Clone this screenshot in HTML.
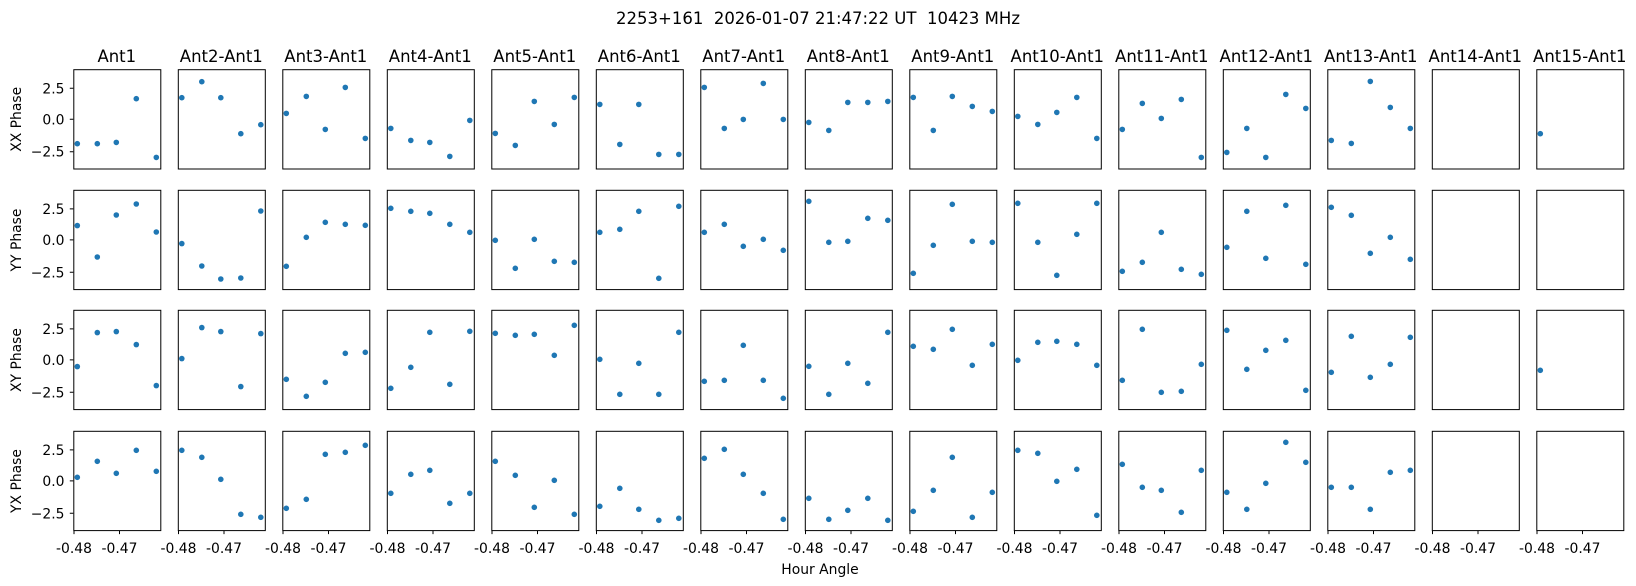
<!DOCTYPE html>
<html><head><meta charset="utf-8"><style>
html,body{margin:0;padding:0;background:#fff;}
svg{display:block;font-family:"DejaVu Sans","Liberation Sans",sans-serif;}
</style></head><body>
<svg width="1636" height="586" viewBox="0 0 1636 586" xmlns="http://www.w3.org/2000/svg">
<rect width="1636" height="586" fill="#fff"/>
<text x="818" y="24" font-size="16.5" text-anchor="middle" style="white-space:pre">2253+161  2026-01-07 21:47:22 UT  10423 MHz</text>
<g font-size="16.5" text-anchor="middle">
<text x="116.8" y="62">Ant1</text>
<text x="221.3" y="62">Ant2-Ant1</text>
<text x="325.8" y="62">Ant3-Ant1</text>
<text x="430.3" y="62">Ant4-Ant1</text>
<text x="534.8" y="62">Ant5-Ant1</text>
<text x="639.3" y="62">Ant6-Ant1</text>
<text x="743.8" y="62">Ant7-Ant1</text>
<text x="848.3" y="62">Ant8-Ant1</text>
<text x="952.8" y="62">Ant9-Ant1</text>
<text x="1057.3" y="62">Ant10-Ant1</text>
<text x="1161.8" y="62">Ant11-Ant1</text>
<text x="1266.3" y="62">Ant12-Ant1</text>
<text x="1370.8" y="62">Ant13-Ant1</text>
<text x="1475.3" y="62">Ant14-Ant1</text>
<text x="1579.8" y="62">Ant15-Ant1</text>
</g>
<g font-size="13.9" text-anchor="middle">
<text transform="translate(21,119.3) rotate(-90)">XX Phase</text>
<text transform="translate(21,240) rotate(-90)">YY Phase</text>
<text transform="translate(21,360) rotate(-90)">XY Phase</text>
<text transform="translate(21,481) rotate(-90)">YX Phase</text>
<text x="820" y="574">Hour Angle</text>
</g>
<!-- y ticks -->
<g font-size="13.9" text-anchor="end" stroke="none">
<text x="64.5" y="93.3">2.5</text><text x="64.5" y="124.3">0.0</text><text x="64.5" y="156.7">−2.5</text>
<text x="64.5" y="213.9">2.5</text><text x="64.5" y="244.9">0.0</text><text x="64.5" y="277.3">−2.5</text>
<text x="64.5" y="333.9">2.5</text><text x="64.5" y="364.9">0.0</text><text x="64.5" y="397.3">−2.5</text>
<text x="64.5" y="454.9">2.5</text><text x="64.5" y="485.9">0.0</text><text x="64.5" y="518.3">−2.5</text>
</g>
<g stroke="#000" stroke-width="1">
<path d="M69.8 88.3H73.3M69.8 119.3H73.3M69.8 151.7H73.3M69.8 208.9H73.3M69.8 239.9H73.3M69.8 272.3H73.3M69.8 328.9H73.3M69.8 359.9H73.3M69.8 392.3H73.3M69.8 449.9H73.3M69.8 480.9H73.3M69.8 513.3H73.3"/>
</g>
<!-- x ticks -->
<g stroke="#000" stroke-width="1">
<path d="M74 530.6v3.5M119.5 530.6v3.5M178.5 530.6v3.5M224 530.6v3.5M283 530.6v3.5M328.5 530.6v3.5M387.5 530.6v3.5M433 530.6v3.5M492 530.6v3.5M537.5 530.6v3.5M596.5 530.6v3.5M642 530.6v3.5M701 530.6v3.5M746.5 530.6v3.5M805.5 530.6v3.5M851 530.6v3.5M910 530.6v3.5M955.5 530.6v3.5M1014.5 530.6v3.5M1060 530.6v3.5M1119 530.6v3.5M1164.5 530.6v3.5M1223.5 530.6v3.5M1269 530.6v3.5M1328 530.6v3.5M1373.5 530.6v3.5M1432.5 530.6v3.5M1478 530.6v3.5M1537 530.6v3.5M1582.5 530.6v3.5"/>
</g>
<g font-size="13.9" text-anchor="middle">
<text x="74" y="553">-0.48</text><text x="119.5" y="553">-0.47</text>
<text x="178.5" y="553">-0.48</text><text x="224" y="553">-0.47</text>
<text x="283" y="553">-0.48</text><text x="328.5" y="553">-0.47</text>
<text x="387.5" y="553">-0.48</text><text x="433" y="553">-0.47</text>
<text x="492" y="553">-0.48</text><text x="537.5" y="553">-0.47</text>
<text x="596.5" y="553">-0.48</text><text x="642" y="553">-0.47</text>
<text x="701" y="553">-0.48</text><text x="746.5" y="553">-0.47</text>
<text x="805.5" y="553">-0.48</text><text x="851" y="553">-0.47</text>
<text x="910" y="553">-0.48</text><text x="955.5" y="553">-0.47</text>
<text x="1014.5" y="553">-0.48</text><text x="1060" y="553">-0.47</text>
<text x="1119" y="553">-0.48</text><text x="1164.5" y="553">-0.47</text>
<text x="1223.5" y="553">-0.48</text><text x="1269" y="553">-0.47</text>
<text x="1328" y="553">-0.48</text><text x="1373.5" y="553">-0.47</text>
<text x="1432.5" y="553">-0.48</text><text x="1478" y="553">-0.47</text>
<text x="1537" y="553">-0.48</text><text x="1582.5" y="553">-0.47</text>
</g>
<!-- boxes -->
<g fill="none" stroke="#000" stroke-width="1">
<g id="col"><rect x="0.5" y="0" width="87" height="99.3" transform="translate(73.3,69.7)"/><rect x="0.5" y="0" width="87" height="99.3" transform="translate(73.3,190.3)"/><rect x="0.5" y="0" width="87" height="99.3" transform="translate(73.3,310.3)"/><rect x="0.5" y="0" width="87" height="99.3" transform="translate(73.3,431.3)"/></g>
<use href="#col" x="104.5"/><use href="#col" x="209"/><use href="#col" x="313.5"/><use href="#col" x="418"/><use href="#col" x="522.5"/><use href="#col" x="627"/><use href="#col" x="731.5"/><use href="#col" x="836"/><use href="#col" x="940.5"/><use href="#col" x="1045"/><use href="#col" x="1149.5"/><use href="#col" x="1254"/><use href="#col" x="1358.5"/><use href="#col" x="1463"/>
</g>
<!-- data -->
<g fill="#1f77b4">
<g transform="translate(73.3,69.7)"><circle cx="4" cy="74" r="2.8"/><circle cx="24" cy="74" r="2.8"/><circle cx="43" cy="72.7" r="2.8"/><circle cx="63" cy="29" r="2.8"/><circle cx="83" cy="87.7" r="2.8"/></g>
<g transform="translate(73.3,190.3)"><circle cx="4" cy="35.3" r="2.8"/><circle cx="24" cy="66.7" r="2.8"/><circle cx="43" cy="24.7" r="2.8"/><circle cx="63" cy="13.7" r="2.8"/><circle cx="83" cy="41.7" r="2.8"/></g>
<g transform="translate(73.3,310.3)"><circle cx="4" cy="56.3" r="2.8"/><circle cx="24" cy="22.3" r="2.8"/><circle cx="43" cy="21.3" r="2.8"/><circle cx="63" cy="34.3" r="2.8"/><circle cx="83" cy="75.3" r="2.8"/></g>
<g transform="translate(73.3,431.3)"><circle cx="4" cy="46" r="2.8"/><circle cx="24" cy="30" r="2.8"/><circle cx="43" cy="42" r="2.8"/><circle cx="63" cy="19" r="2.8"/><circle cx="83" cy="40" r="2.8"/></g>

<g transform="translate(177.8,69.7)"><circle cx="4" cy="28" r="2.8"/><circle cx="24" cy="12" r="2.8"/><circle cx="43" cy="28" r="2.8"/><circle cx="63" cy="64" r="2.8"/><circle cx="83" cy="55" r="2.8"/></g>
<g transform="translate(177.8,190.3)"><circle cx="4" cy="53.3" r="2.8"/><circle cx="24" cy="75.7" r="2.8"/><circle cx="43" cy="88.7" r="2.8"/><circle cx="63" cy="87.7" r="2.8"/><circle cx="83" cy="20.7" r="2.8"/></g>
<g transform="translate(177.8,310.3)"><circle cx="4" cy="48.3" r="2.8"/><circle cx="24" cy="17.3" r="2.8"/><circle cx="43" cy="21.3" r="2.8"/><circle cx="63" cy="76.3" r="2.8"/><circle cx="83" cy="23.3" r="2.8"/></g>
<g transform="translate(177.8,431.3)"><circle cx="4" cy="19" r="2.8"/><circle cx="24" cy="26" r="2.8"/><circle cx="43" cy="48" r="2.8"/><circle cx="63" cy="83" r="2.8"/><circle cx="83" cy="86" r="2.8"/></g>

<g transform="translate(282.3,69.7)"><circle cx="4" cy="43.7" r="2.8"/><circle cx="24" cy="26.7" r="2.8"/><circle cx="43" cy="59.7" r="2.8"/><circle cx="63" cy="17.7" r="2.8"/><circle cx="83" cy="68.7" r="2.8"/></g>
<g transform="translate(282.3,190.3)"><circle cx="4" cy="76" r="2.8"/><circle cx="24" cy="47" r="2.8"/><circle cx="43" cy="32" r="2.8"/><circle cx="63" cy="34" r="2.8"/><circle cx="83" cy="35" r="2.8"/></g>
<g transform="translate(282.3,310.3)"><circle cx="4" cy="69" r="2.8"/><circle cx="24" cy="86" r="2.8"/><circle cx="43" cy="72" r="2.8"/><circle cx="63" cy="43" r="2.8"/><circle cx="83" cy="42" r="2.8"/></g>
<g transform="translate(282.3,431.3)"><circle cx="4" cy="77" r="2.8"/><circle cx="24" cy="68" r="2.8"/><circle cx="43" cy="23" r="2.8"/><circle cx="63" cy="21" r="2.8"/><circle cx="83" cy="14" r="2.8"/></g>

<g transform="translate(386.8,69.7)"><circle cx="4" cy="58.7" r="2.8"/><circle cx="24" cy="70.7" r="2.8"/><circle cx="43" cy="72.7" r="2.8"/><circle cx="63" cy="86.7" r="2.8"/><circle cx="83" cy="50.7" r="2.8"/></g>
<g transform="translate(386.8,190.3)"><circle cx="4" cy="18" r="2.8"/><circle cx="24" cy="21" r="2.8"/><circle cx="43" cy="23" r="2.8"/><circle cx="63" cy="34" r="2.8"/><circle cx="83" cy="42" r="2.8"/></g>
<g transform="translate(386.8,310.3)"><circle cx="4" cy="78" r="2.8"/><circle cx="24" cy="57" r="2.8"/><circle cx="43" cy="22" r="2.8"/><circle cx="63" cy="74" r="2.8"/><circle cx="83" cy="21" r="2.8"/></g>
<g transform="translate(386.8,431.3)"><circle cx="4" cy="62" r="2.8"/><circle cx="24" cy="43" r="2.8"/><circle cx="43" cy="39" r="2.8"/><circle cx="63" cy="72" r="2.8"/><circle cx="83" cy="62" r="2.8"/></g>

<g transform="translate(491.3,69.7)"><circle cx="4" cy="63.7" r="2.8"/><circle cx="24" cy="75.7" r="2.8"/><circle cx="43" cy="31.7" r="2.8"/><circle cx="63" cy="54.7" r="2.8"/><circle cx="83" cy="27.7" r="2.8"/></g>
<g transform="translate(491.3,190.3)"><circle cx="4" cy="50" r="2.8"/><circle cx="24" cy="78" r="2.8"/><circle cx="43" cy="49" r="2.8"/><circle cx="63" cy="71" r="2.8"/><circle cx="83" cy="72" r="2.8"/></g>
<g transform="translate(491.3,310.3)"><circle cx="4" cy="23" r="2.8"/><circle cx="24" cy="25" r="2.8"/><circle cx="43" cy="24" r="2.8"/><circle cx="63" cy="45" r="2.8"/><circle cx="83" cy="15" r="2.8"/></g>
<g transform="translate(491.3,431.3)"><circle cx="4" cy="30" r="2.8"/><circle cx="24" cy="44" r="2.8"/><circle cx="43" cy="76" r="2.8"/><circle cx="63" cy="49" r="2.8"/><circle cx="83" cy="83" r="2.8"/></g>

<g transform="translate(595.8,69.7)"><circle cx="4" cy="34.7" r="2.8"/><circle cx="24" cy="74.7" r="2.8"/><circle cx="43" cy="34.7" r="2.8"/><circle cx="63" cy="84.7" r="2.8"/><circle cx="83" cy="84.7" r="2.8"/></g>
<g transform="translate(595.8,190.3)"><circle cx="4" cy="42" r="2.8"/><circle cx="24" cy="39" r="2.8"/><circle cx="43" cy="21" r="2.8"/><circle cx="63" cy="88" r="2.8"/><circle cx="83" cy="16" r="2.8"/></g>
<g transform="translate(595.8,310.3)"><circle cx="4" cy="49" r="2.8"/><circle cx="24" cy="84" r="2.8"/><circle cx="43" cy="53" r="2.8"/><circle cx="63" cy="84" r="2.8"/><circle cx="83" cy="22" r="2.8"/></g>
<g transform="translate(595.8,431.3)"><circle cx="4" cy="75" r="2.8"/><circle cx="24" cy="57" r="2.8"/><circle cx="43" cy="78" r="2.8"/><circle cx="63" cy="89" r="2.8"/><circle cx="83" cy="87" r="2.8"/></g>

<g transform="translate(700.3,69.7)"><circle cx="4" cy="17.7" r="2.8"/><circle cx="24" cy="58.7" r="2.8"/><circle cx="43" cy="49.7" r="2.8"/><circle cx="63" cy="13.7" r="2.8"/><circle cx="83" cy="49.7" r="2.8"/></g>
<g transform="translate(700.3,190.3)"><circle cx="4" cy="42" r="2.8"/><circle cx="24" cy="34" r="2.8"/><circle cx="43" cy="56" r="2.8"/><circle cx="63" cy="49" r="2.8"/><circle cx="83" cy="60" r="2.8"/></g>
<g transform="translate(700.3,310.3)"><circle cx="4" cy="71" r="2.8"/><circle cx="24" cy="70" r="2.8"/><circle cx="43" cy="35" r="2.8"/><circle cx="63" cy="70" r="2.8"/><circle cx="83" cy="88" r="2.8"/></g>
<g transform="translate(700.3,431.3)"><circle cx="4" cy="27" r="2.8"/><circle cx="24" cy="18" r="2.8"/><circle cx="43" cy="43" r="2.8"/><circle cx="63" cy="62" r="2.8"/><circle cx="83" cy="88" r="2.8"/></g>

<g transform="translate(804.8,69.7)"><circle cx="4" cy="52.7" r="2.8"/><circle cx="24" cy="60.7" r="2.8"/><circle cx="43" cy="32.7" r="2.8"/><circle cx="63" cy="32.7" r="2.8"/><circle cx="83" cy="31.7" r="2.8"/></g>
<g transform="translate(804.8,190.3)"><circle cx="4" cy="11" r="2.8"/><circle cx="24" cy="52" r="2.8"/><circle cx="43" cy="51" r="2.8"/><circle cx="63" cy="28" r="2.8"/><circle cx="83" cy="30" r="2.8"/></g>
<g transform="translate(804.8,310.3)"><circle cx="4" cy="56" r="2.8"/><circle cx="24" cy="84" r="2.8"/><circle cx="43" cy="53" r="2.8"/><circle cx="63" cy="73" r="2.8"/><circle cx="83" cy="22" r="2.8"/></g>
<g transform="translate(804.8,431.3)"><circle cx="4" cy="67" r="2.8"/><circle cx="24" cy="88" r="2.8"/><circle cx="43" cy="79" r="2.8"/><circle cx="63" cy="67" r="2.8"/><circle cx="83" cy="89" r="2.8"/></g>

<g transform="translate(909.3,69.7)"><circle cx="4" cy="27.7" r="2.8"/><circle cx="24" cy="60.7" r="2.8"/><circle cx="43" cy="26.7" r="2.8"/><circle cx="63" cy="36.7" r="2.8"/><circle cx="83" cy="41.7" r="2.8"/></g>
<g transform="translate(909.3,190.3)"><circle cx="4" cy="83" r="2.8"/><circle cx="24" cy="55" r="2.8"/><circle cx="43" cy="14" r="2.8"/><circle cx="63" cy="51" r="2.8"/><circle cx="83" cy="52" r="2.8"/></g>
<g transform="translate(909.3,310.3)"><circle cx="4" cy="36" r="2.8"/><circle cx="24" cy="39" r="2.8"/><circle cx="43" cy="19" r="2.8"/><circle cx="63" cy="55" r="2.8"/><circle cx="83" cy="34" r="2.8"/></g>
<g transform="translate(909.3,431.3)"><circle cx="4" cy="80" r="2.8"/><circle cx="24" cy="59" r="2.8"/><circle cx="43" cy="26" r="2.8"/><circle cx="63" cy="86" r="2.8"/><circle cx="83" cy="61" r="2.8"/></g>

<g transform="translate(1013.8,69.7)"><circle cx="4" cy="46.7" r="2.8"/><circle cx="24" cy="54.7" r="2.8"/><circle cx="43" cy="42.7" r="2.8"/><circle cx="63" cy="27.7" r="2.8"/><circle cx="83" cy="68.7" r="2.8"/></g>
<g transform="translate(1013.8,190.3)"><circle cx="4" cy="13" r="2.8"/><circle cx="24" cy="52" r="2.8"/><circle cx="43" cy="85" r="2.8"/><circle cx="63" cy="44" r="2.8"/><circle cx="83" cy="13" r="2.8"/></g>
<g transform="translate(1013.8,310.3)"><circle cx="4" cy="50" r="2.8"/><circle cx="24" cy="32" r="2.8"/><circle cx="43" cy="31" r="2.8"/><circle cx="63" cy="34" r="2.8"/><circle cx="83" cy="55" r="2.8"/></g>
<g transform="translate(1013.8,431.3)"><circle cx="4" cy="19" r="2.8"/><circle cx="24" cy="22" r="2.8"/><circle cx="43" cy="50" r="2.8"/><circle cx="63" cy="38" r="2.8"/><circle cx="83" cy="84" r="2.8"/></g>

<g transform="translate(1118.3,69.7)"><circle cx="4" cy="59.7" r="2.8"/><circle cx="24" cy="33.7" r="2.8"/><circle cx="43" cy="48.7" r="2.8"/><circle cx="63" cy="29.7" r="2.8"/><circle cx="83" cy="87.7" r="2.8"/></g>
<g transform="translate(1118.3,190.3)"><circle cx="4" cy="81" r="2.8"/><circle cx="24" cy="72" r="2.8"/><circle cx="43" cy="42" r="2.8"/><circle cx="63" cy="79" r="2.8"/><circle cx="83" cy="84" r="2.8"/></g>
<g transform="translate(1118.3,310.3)"><circle cx="4" cy="70" r="2.8"/><circle cx="24" cy="19" r="2.8"/><circle cx="43" cy="82" r="2.8"/><circle cx="63" cy="81" r="2.8"/><circle cx="83" cy="54" r="2.8"/></g>
<g transform="translate(1118.3,431.3)"><circle cx="4" cy="33" r="2.8"/><circle cx="24" cy="56" r="2.8"/><circle cx="43" cy="59" r="2.8"/><circle cx="63" cy="81" r="2.8"/><circle cx="83" cy="39" r="2.8"/></g>

<g transform="translate(1222.8,69.7)"><circle cx="4" cy="82.7" r="2.8"/><circle cx="24" cy="58.7" r="2.8"/><circle cx="43" cy="87.7" r="2.8"/><circle cx="63" cy="24.7" r="2.8"/><circle cx="83" cy="38.7" r="2.8"/></g>
<g transform="translate(1222.8,190.3)"><circle cx="4" cy="57" r="2.8"/><circle cx="24" cy="21" r="2.8"/><circle cx="43" cy="68" r="2.8"/><circle cx="63" cy="15" r="2.8"/><circle cx="83" cy="74" r="2.8"/></g>
<g transform="translate(1222.8,310.3)"><circle cx="4" cy="20" r="2.8"/><circle cx="24" cy="59" r="2.8"/><circle cx="43" cy="40" r="2.8"/><circle cx="63" cy="30" r="2.8"/><circle cx="83" cy="80" r="2.8"/></g>
<g transform="translate(1222.8,431.3)"><circle cx="4" cy="61" r="2.8"/><circle cx="24" cy="78" r="2.8"/><circle cx="43" cy="52" r="2.8"/><circle cx="63" cy="11" r="2.8"/><circle cx="83" cy="31" r="2.8"/></g>

<g transform="translate(1327.3,69.7)"><circle cx="4" cy="70.7" r="2.8"/><circle cx="24" cy="73.7" r="2.8"/><circle cx="43" cy="11.7" r="2.8"/><circle cx="63" cy="37.7" r="2.8"/><circle cx="83" cy="58.7" r="2.8"/></g>
<g transform="translate(1327.3,190.3)"><circle cx="4" cy="17" r="2.8"/><circle cx="24" cy="25" r="2.8"/><circle cx="43" cy="63" r="2.8"/><circle cx="63" cy="47" r="2.8"/><circle cx="83" cy="69" r="2.8"/></g>
<g transform="translate(1327.3,310.3)"><circle cx="4" cy="62" r="2.8"/><circle cx="24" cy="26" r="2.8"/><circle cx="43" cy="67" r="2.8"/><circle cx="63" cy="54" r="2.8"/><circle cx="83" cy="27" r="2.8"/></g>
<g transform="translate(1327.3,431.3)"><circle cx="4" cy="56" r="2.8"/><circle cx="24" cy="56" r="2.8"/><circle cx="43" cy="78" r="2.8"/><circle cx="63" cy="41" r="2.8"/><circle cx="83" cy="39" r="2.8"/></g>

<g transform="translate(1536.3,69.7)"><circle cx="4" cy="64" r="2.8"/></g>
<g transform="translate(1536.3,310.3)"><circle cx="4" cy="60" r="2.8"/></g>
</g>
</svg>
</body></html>
